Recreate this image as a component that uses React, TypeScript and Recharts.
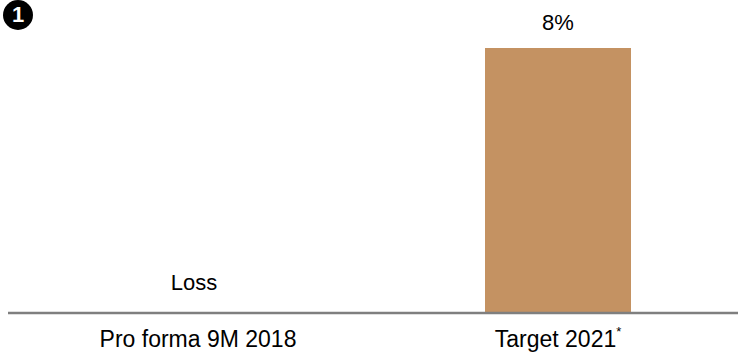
import { BarChart, Bar, XAxis, YAxis, LabelList } from "recharts";

const categories = ["Pro forma 9M 2018", "Target 2021"];
const values = [0, 8];
const valueLabels = ["Loss", "8%"];
const tickSuffix = ["", "*"];

const data = categories.map((name, i) => ({
  name,
  value: values[i],
  label: valueLabels[i],
}));

const FONT = "'Liberation Sans', Arial, sans-serif";

// category name under the axis; a "Loss" entry has no bar, so its label sits just above the axis
function Tick(props: any) {
  const { x, y, payload, index } = props;
  const suffix = tickSuffix[index] || "";
  return (
    <g transform={`translate(${x},${y})`}>
      <text x={0} y={26} textAnchor="middle" fontSize={23} fill="#000" fontFamily={FONT}>
        {payload.value}
        {suffix && (
          <tspan fontSize={13} dy={-11}>
            {suffix}
          </tspan>
        )}
      </text>
      {values[index] <= 0 && (
        <text x={-4} y={-31} textAnchor="middle" fontSize={22} fill="#000" fontFamily={FONT}>
          {valueLabels[index]}
        </text>
      )}
    </g>
  );
}

function ValueLabel(props: any) {
  const { x, y, width, value } = props;
  return (
    <text x={x + width / 2} y={y - 18} textAnchor="middle" fontSize={22} fill="#000" fontFamily={FONT}>
      {value}
    </text>
  );
}

export default function App() {
  return (
    <div style={{ position: "fixed", left: 0, top: 0, width: 738, height: 352, background: "#fff" }}>
      <div
        style={{
          position: "absolute",
          left: 3,
          top: 0,
          width: 30,
          height: 30,
          borderRadius: "50%",
          background: "#000",
          color: "#fff",
          fontFamily: FONT,
          fontWeight: "bold",
          fontSize: 22,
          lineHeight: "30px",
          textAlign: "center",
        }}
      >
        1
      </div>
      <BarChart
        width={738}
        height={352}
        data={data}
        margin={{ top: 48, right: 0, left: 8, bottom: 0 }}
        barCategoryGap={0}
      >
        <XAxis
          dataKey="name"
          height={39}
          axisLine={{ stroke: "#7f7f7f", strokeWidth: 2.5 }}
          tickLine={false}
          tick={<Tick />}
          padding={{ left: 10, right: 0 }}
          interval={0}
        />
        <YAxis hide domain={[0, 8]} />
        <Bar dataKey="value" fill="#c49262" barSize={146} isAnimationActive={false}>
          <LabelList dataKey="label" content={<ValueLabel />} />
        </Bar>
      </BarChart>
    </div>
  );
}
